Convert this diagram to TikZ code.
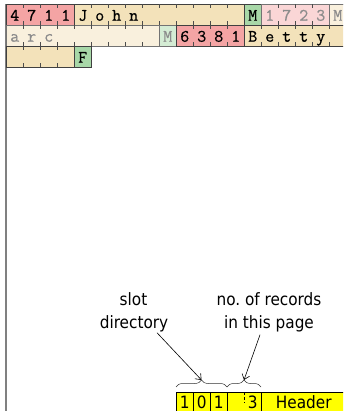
\documentclass[tikz,border=0pt]{standalone}
\usepackage{fontspec}
\newfontfamily\labfont{DejaVu Sans Condensed}
\newfontfamily\recfont[FakeBold=0.6]{Latin Modern Mono}
\usetikzlibrary{decorations.pathreplacing,arrows.meta}
\definecolor{recred}{RGB}{244,164,164}
\definecolor{rectan}{RGB}{243,226,186}
\definecolor{recgreen}{RGB}{168,216,168}
\definecolor{fadered}{RGB}{250,214,214}
\definecolor{fadetan}{RGB}{249,240,221}
\definecolor{fadegreen}{RGB}{212,236,212}
\definecolor{fadetext}{RGB}{140,140,140}
\definecolor{pageline}{RGB}{128,128,128}
\definecolor{hdryellow}{RGB}{255,255,0}
\newdimen\cellw \cellw=17pt
\def\spc#1{\ifx#1\relax\else\makebox[\cellw]{#1}\expandafter\spc\fi}
\tikzset{
  x=1pt, y=-1pt,
  fieldbox/.style={draw=black!75, line width=0.5pt, anchor=north west, inner sep=0pt,
    minimum height=21pt, text height=13pt, text depth=2pt,
    font=\recfont\fontsize{17.5}{17.5}\selectfont},
  redcell/.style={fieldbox, fill=recred, text=black},
  tancell/.style={fieldbox, fill=rectan, text=black},
  grncell/.style={fieldbox, fill=recgreen, text=black},
  fredcell/.style={fieldbox, fill=fadered, text=fadetext, draw=black!55},
  ftancell/.style={fieldbox, fill=fadetan, text=fadetext, draw=black!55},
  fgrncell/.style={fieldbox, fill=fadegreen, text=fadetext, draw=black!55},
  tick/.style={draw=black!70, line width=0.5pt},
  hdrcell/.style={draw=black, line width=0.5pt, fill=hdryellow, anchor=north west, inner sep=0pt,
    minimum height=21pt, minimum width=17pt, text height=13pt, text depth=2pt,
    font=\labfont\fontsize{17}{17}\selectfont},
  lab/.style={inner sep=0pt, anchor=base, font=\labfont\fontsize{17}{20}\selectfont},
  bracestyle/.style={draw=black!80, line width=0.5pt, decorate, decoration={brace, amplitude=7pt}},
  arr/.style={draw=black, line width=0.6pt, -{Straight Barb[length=5pt,width=8pt]}},
  pageborder/.style={draw=pageline, line width=1.6pt}
}
\newcommand\fld[6]{% name, col, row, ncols, style, chars
  \node[#5] (#1) at ({6+17*#2},{4.5+21*#3}) {\makebox[#4\cellw][l]{\spc#6\relax}};
  \pgfmathtruncatemacro\nlast{#4-1}
  \ifnum\nlast>0
    \foreach \k in {1,...,\nlast}{
      \draw[tick] ({6+17*(#2+\k)},{4.5+21*#3}) -- ++(0,4);
      \draw[tick] ({6+17*(#2+\k)},{4.5+21*(#3+1)}) -- ++(0,-4);
    }
  \fi
}
\begin{document}
\begin{tikzpicture}
\useasboundingbox (0,0) rectangle (343,411);
\fill[white] (0,0) rectangle (343,411);
\clip (0,0) rectangle (343,411);
% page
\draw[pageborder] (6,430) -- (6,4.5) -- (360,4.5);
% row 0
\fld{idA}{0}{0}{4}{redcell}{4711}
\fld{nameA}{4}{0}{10}{tancell}{John}
\fld{sexA}{14}{0}{1}{grncell}{M}
\fld{idB}{15}{0}{4}{fredcell}{1723}
\fld{nameBa}{19}{0}{1}{ftancell}{M}
% row 1
\fld{nameBb}{0}{1}{9}{ftancell}{arc}
\fld{sexB}{9}{1}{1}{fgrncell}{M}
\fld{idC}{10}{1}{4}{redcell}{6381}
\fld{nameCa}{14}{1}{6}{tancell}{Betty}
% row 2
\fld{nameCb}{0}{2}{4}{tancell}{}
\fld{sexC}{4}{2}{1}{grncell}{F}
% header
\node[hdrcell] (h1) at (176,392) {1};
\node[hdrcell] (h2) at (193,392) {0};
\node[hdrcell] (h3) at (210,392) {1};
\node[hdrcell, minimum width=34pt] (hn) at (227,392) {\makebox[34pt][r]{\makebox[\cellw]{3}}};
\node[hdrcell, minimum width=85pt] (hh) at (261,392) {Header};
\draw[draw=black, line width=0.5pt, dash pattern=on 3pt off 2pt] (244,392) -- (244,403);
% braces
\draw[bracestyle] (176,387) -- (227,387);
\draw[bracestyle] (227,387) -- (261,387);
\coordinate (tip1) at (201.5,380);
\coordinate (tip2) at (244,380);
% labels
\node[lab] (slotA) at (133.5,305) {slot};
\node[lab] (slotB) at (134,328) {directory};
\node[lab] (recA) at (269,305) {no.\ of records};
\node[lab] (recB) at (269,328) {in this page};
\draw[arr] ([xshift=23pt,yshift=-1pt]slotB.south) -- (tip1);
\draw[arr] ([xshift=-9pt,yshift=-3pt]recB.south) -- (tip2);
\end{tikzpicture}
\end{document}
